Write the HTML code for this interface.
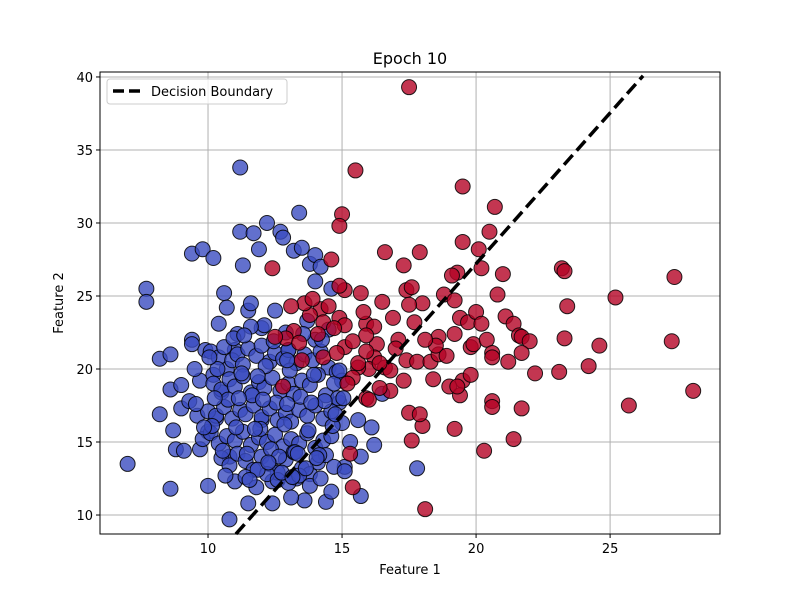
<!DOCTYPE html>
<html><head><meta charset="utf-8"><style>
body{margin:0;background:#fff;}
svg text{font-family:"DejaVu Sans","Liberation Sans",sans-serif;}
</style></head><body>
<svg id="chart" width="800" height="600" xmlns="http://www.w3.org/2000/svg">
<rect width="800" height="600" fill="#fff"/>
<g id="grid"></g>
<g id="pts"></g>
<g id="axes"></g>
<text x="410" y="64" font-size="16" text-anchor="middle">Epoch 10</text>
<text x="410" y="574" font-size="13" text-anchor="middle">Feature 1</text>
<text x="63" y="303" font-size="13" text-anchor="middle" transform="rotate(-90 63 303)">Feature 2</text>
<g>
<rect x="107" y="79" width="180" height="25" rx="3" fill="#fff" fill-opacity="0.8" stroke="#ccc"/>
<line x1="113" y1="91" x2="141" y2="91" stroke="#000" stroke-width="3.5" stroke-dasharray="11 5"/>
<text x="151" y="96" font-size="13">Decision Boundary</text>
</g>
</svg>
<script>
const xTicks=[10,15,20,25];
const yTicks=[10,15,20,25,30,35,40];
const boundaryX=[11.04,26.23];
const boundaryY=[8.7,40.08];
const blueX=[7.0,7.7,7.7,8.2,8.2,8.6,8.6,8.6,8.7,8.8,9.0,9.0,9.1,9.4,9.4,9.4,9.6,9.7,9.7,9.8,9.9,10.0,10.0,10.2,10.2,10.3,10.4,10.5,10.6,10.7,10.8,10.8,11.0,11.1,11.2,11.2,11.3,11.5,11.5,11.6,11.7,11.9,12.0,12.0,12.2,12.4,12.5,12.7,12.8,13.0,13.2,13.4,13.5,13.3,13.6,13.8,14.0,14.0,14.2,14.4,14.6,14.9,15.1,15.3,15.6,15.7,15.7,16.1,16.2,16.5,17.8,14.0,14.5,
10.1,10.4,10.6,10.9,11.1,11.3,11.5,11.8,12.0,12.3,12.5,12.8,13.0,13.3,13.6,13.9,14.2,14.5,14.8,15.0,
10.2,10.5,10.8,11.0,11.3,11.6,11.9,12.1,12.4,12.7,13.0,13.2,13.5,13.8,14.1,14.4,14.7,
10.0,10.3,10.6,10.9,11.2,11.4,11.7,12.0,12.3,12.6,12.9,13.1,13.4,13.7,14.0,14.3,14.6,15.0,
9.8,10.1,10.4,10.7,11.0,11.3,11.6,11.9,12.2,12.5,12.8,13.1,13.4,13.7,14.0,14.3,14.6,
10.5,10.8,11.1,11.4,11.7,12.0,12.3,12.6,12.9,13.2,13.5,13.8,14.1,14.4,14.7,15.1,
11.0,11.4,11.8,12.2,12.6,13.0,13.4,13.8,14.2,14.6,12.1,12.9,13.7,11.6,10.7,9.5,9.3,12.4,13.1,14.9,
10.35,11.25,12.15,13.05,13.95,14.85,10.75,11.65,12.55,13.45,14.35,10.15,11.05,11.95,12.85,13.75,14.65,10.55,11.45,12.35,13.25,14.15,11.85,12.75,13.65,10.95,11.35,12.45,13.55,14.25,
9.55,9.85,10.25,11.15,12.05,12.95,13.85,11.75,12.65,13.35,10.65,11.55,12.25,13.15,14.05,14.75,15.05,10.05,11.85,12.95];
const blueY=[13.5,25.5,24.6,20.7,16.9,21.0,18.6,11.8,15.8,14.5,18.9,17.3,14.4,22.0,21.7,27.9,16.8,19.2,14.5,28.2,21.3,15.7,12.0,27.6,19.6,16.6,23.1,18.4,25.2,20.0,9.7,14.0,21.3,22.4,33.8,29.4,27.1,10.8,24.0,24.5,29.3,28.2,22.8,16.5,30.0,12.3,24.0,29.4,29.0,21.3,28.1,30.7,28.3,12.5,11.0,27.2,27.8,26.0,27.0,10.9,25.5,17.7,13.3,15.0,16.5,11.3,14.0,16.0,14.8,18.3,13.2,22.0,22.7,
21.2,20.8,21.5,20.6,21.0,20.3,21.4,20.9,21.6,20.5,21.1,20.7,21.3,20.4,21.0,20.6,21.2,20.1,19.8,19.2,
19.0,18.6,19.3,18.8,19.5,18.4,19.1,18.7,19.4,18.5,19.0,18.3,19.2,18.9,19.6,18.2,19.0,
17.1,16.8,17.4,16.6,17.2,16.9,17.5,16.7,17.3,16.5,17.0,16.4,17.2,16.8,17.5,16.6,17.1,16.3,
15.2,15.6,14.9,15.4,15.1,15.7,14.8,15.3,15.0,15.5,14.7,15.2,14.9,15.6,14.6,15.1,15.4,
13.9,13.4,14.2,13.7,13.1,14.0,13.5,12.9,13.8,14.3,13.2,12.8,13.6,14.1,13.3,13.0,
12.3,12.6,11.9,12.8,12.4,12.2,12.7,12.0,12.5,11.6,23.0,22.5,23.3,22.9,24.2,20.0,17.8,10.8,11.2,19.9,
20.0,19.7,20.2,19.9,19.6,18.0,17.9,18.2,17.7,18.1,17.8,16.1,16.0,15.9,16.2,15.8,16.1,14.4,14.2,14.5,14.3,14.1,13.1,12.9,13.2,22.1,22.3,21.9,22.4,22.0,
17.6,16.0,18.0,18.0,17.9,17.6,17.7,15.9,14.0,14.2,12.7,12.4,13.6,12.6,13.9,16.9,18.0,20.8,19.5,20.6];
const redX=[17.5,15.5,19.5,20.7,15.0,14.9,20.5,19.5,20.1,16.6,17.9,20.2,19.3,19.1,21.0,23.2,23.3,27.4,17.3,14.6,12.4,17.4,17.6,18.0,17.5,15.1,14.9,18.8,19.2,20.8,21.1,21.4,23.4,25.2,19.4,19.7,20.0,20.2,17.7,16.9,15.9,15.8,16.2,17.1,16.3,15.9,18.6,19.2,19.8,19.9,20.4,20.6,20.6,21.6,21.7,22.0,23.3,24.6,27.3,21.2,21.7,22.2,23.1,24.2,25.7,28.1,17.4,17.8,18.3,18.6,18.5,19.5,19.8,19.0,19.4,19.3,18.4,16.2,16.0,16.6,15.6,16.8,17.3,16.8,16.4,15.9,16.0,15.4,15.2,17.5,18.0,17.9,17.6,19.2,20.3,18.1,15.4,15.3,20.6,20.6,21.7,21.4,14.2,14.3,13.8,13.6,13.9,14.5,14.9,15.1,14.7,13.2,12.9,14.3,13.5,12.8,15.1,14.8,15.4,15.6,13.1,15.9,16.4,17.0,18.1,18.9,16.5,15.7,14.1,13.4,12.5];
const redY=[39.3,33.6,32.5,31.1,30.6,29.8,29.4,28.7,28.2,28.0,28.0,26.9,26.6,26.4,26.5,26.9,26.7,26.3,27.1,27.5,26.9,25.4,25.6,24.5,24.4,25.4,25.7,25.1,24.7,25.1,23.6,23.1,24.3,24.9,23.5,23.2,23.9,23.1,23.2,23.5,23.1,23.9,22.9,22.0,21.7,22.3,22.2,22.4,21.5,21.7,22.0,21.1,20.8,22.3,22.2,21.9,22.1,21.6,21.9,20.5,21.1,19.7,19.8,20.2,17.5,18.5,20.6,20.5,20.5,21.0,21.6,19.2,19.6,18.8,18.2,18.8,19.3,20.8,20.0,20.1,20.1,19.9,19.2,18.5,18.7,18.0,17.9,19.4,19.0,17.0,16.1,16.9,15.1,15.9,14.4,10.4,11.9,14.2,17.8,17.4,17.3,15.2,24.1,23.2,23.7,24.5,24.8,24.3,23.5,23.0,22.8,22.6,22.1,20.8,20.6,18.8,21.5,21.1,21.9,20.4,24.3,21.2,20.4,21.4,22.0,20.9,24.6,25.2,22.4,21.8,22.2];
const L=100,R=720,T=72,B=534,xmin=5.97,xmax=29.1,ymin=8.7,ymax=40.34;
const sx=v=>L+(v-xmin)/(xmax-xmin)*(R-L);
const sy=v=>B-(v-ymin)/(ymax-ymin)*(B-T);
const NS="http://www.w3.org/2000/svg";
function mk(tag,attrs,parent){const e=document.createElementNS(NS,tag);for(const k in attrs)e.setAttribute(k,attrs[k]);parent.appendChild(e);return e;}
const grid=document.getElementById('grid'),axes=document.getElementById('axes'),pts=document.getElementById('pts');
xTicks.forEach(t=>{
 const g=mk('line',{x1:sx(t),x2:sx(t),y1:T,y2:B,stroke:'#b0b0b0','stroke-width':1},grid);
 
 
 mk('line',{x1:sx(t),x2:sx(t),y1:B,y2:B+4,stroke:'#000'},axes);
 const tx=mk('text',{x:sx(t),y:B+19,'font-size':13,'text-anchor':'middle'},axes);tx.textContent=t;
 
 
});
yTicks.forEach(t=>{
 const g=mk('line',{x1:L,x2:R,y1:sy(t),y2:sy(t),stroke:'#b0b0b0','stroke-width':1},grid);
 
 
 mk('line',{x1:L-4,x2:L,y1:sy(t),y2:sy(t),stroke:'#000'},axes);
 const tx=mk('text',{x:L-7,y:sy(t)+5,'font-size':13,'text-anchor':'end'},axes);tx.textContent=t;
 
 
});
blueX.forEach((x,i)=>{
 const c=mk('circle',{cx:sx(x),cy:sy(blueY[i]),r:7.5,fill:'#3b4cc0','fill-opacity':0.8,stroke:'#000','stroke-opacity':0.85,'stroke-width':1},pts);
 
 
});
redX.forEach((x,i)=>{
 const c=mk('circle',{cx:sx(x),cy:sy(redY[i]),r:7.5,fill:'#b40426','fill-opacity':0.8,stroke:'#000','stroke-opacity':0.85,'stroke-width':1},pts);
 
 
});
const bl=mk('line',{x1:sx(boundaryX[0]),y1:sy(boundaryY[0]),x2:sx(boundaryX[1]),y2:sy(boundaryY[1]),stroke:'#000','stroke-width':3.5,'stroke-dasharray':'13 6'},pts);


const fr=mk('rect',{x:L,y:T,width:R-L,height:B-T,fill:'none',stroke:'#000','stroke-width':1},axes);


</script>
</body></html>
